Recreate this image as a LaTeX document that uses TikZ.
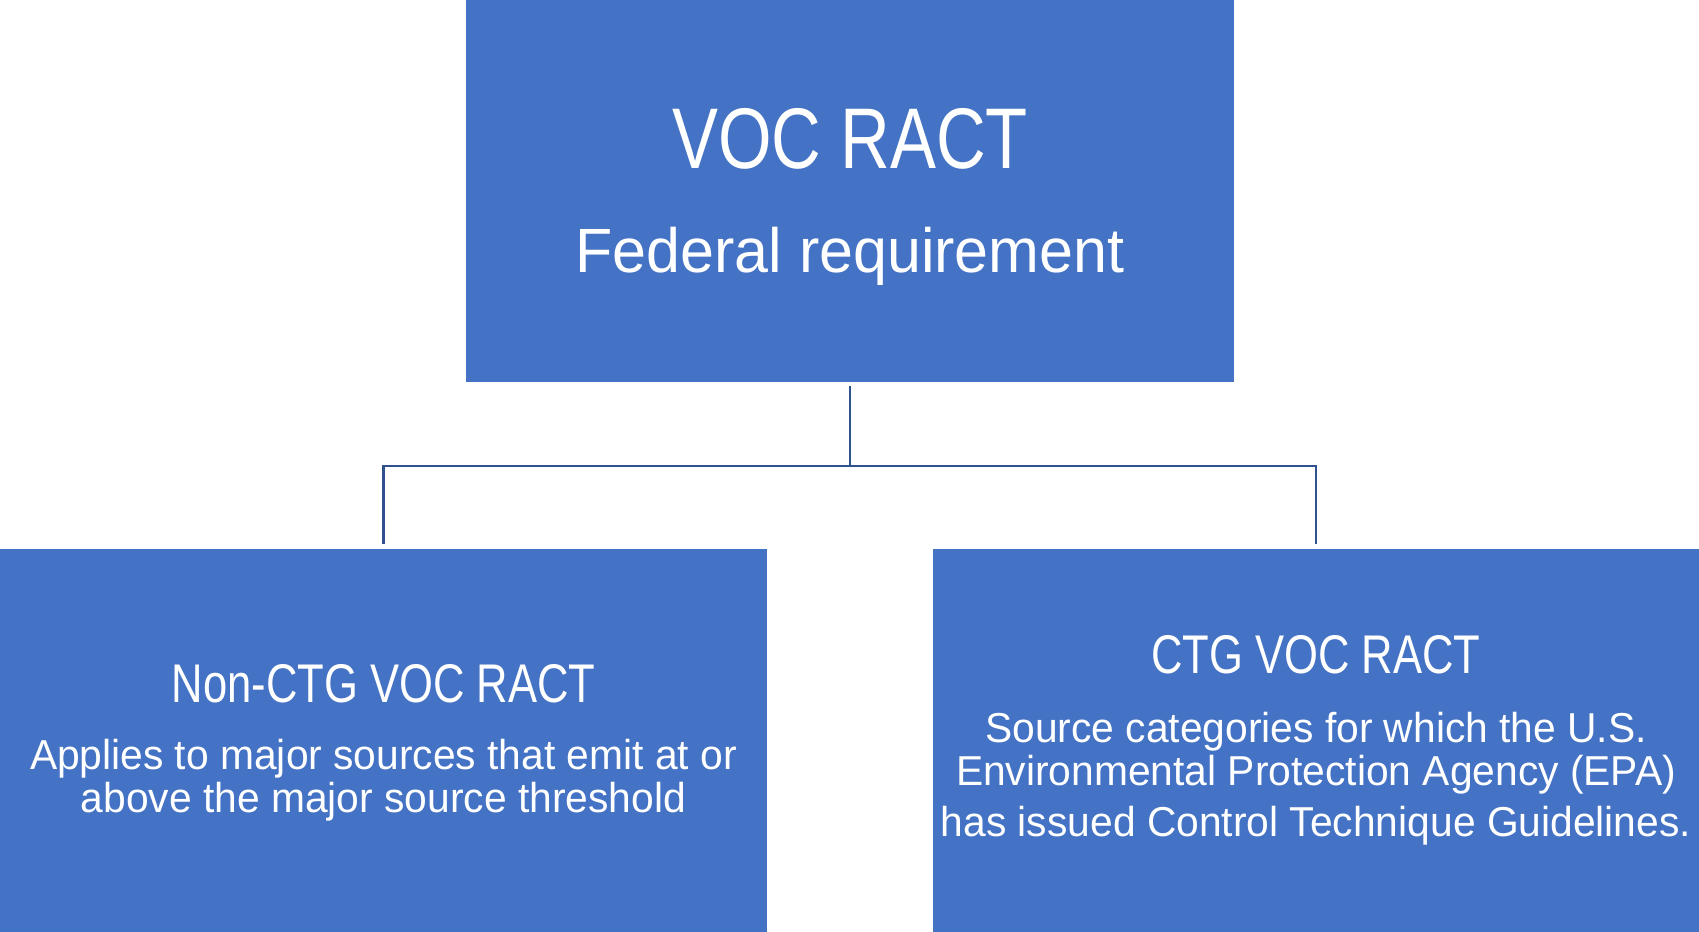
\documentclass[tikz,border=0pt]{standalone}
\usepackage{fontspec}
\setmainfont{Liberation Sans}[FakeStretch=0.8]
\newfontfamily\bodyfont{Liberation Sans}[FakeStretch=0.975]
\usetikzlibrary{positioning}
\definecolor{boxblue}{HTML}{4472C4}
\definecolor{linkblue}{HTML}{2F528F}
\tikzset{
  racbox/.style={fill=boxblue, text=white, inner sep=0pt, align=center,
    minimum width=15.34cm, minimum height=7.65cm},
  link/.style={draw=linkblue, line width=1.2pt}
}
\begin{document}
\begin{tikzpicture}[x=0.02cm,y=-0.02cm]
  \useasboundingbox (0,0) rectangle (1699,932);
  \node[racbox, minimum width=15.36cm] (fed) at (850,191)
    {\fontsize{49}{58}\selectfont\rule{0pt}{40.8pt}VOC RACT\\[32pt]
     \bodyfont\fontsize{35.6}{42}\selectfont Federal requirement};
  \node[racbox] (nonctg) at (383.5,740.5)
    {\fontsize{31}{37}\selectfont\rule{0pt}{24.6pt}Non-CTG VOC RACT\\[19.6pt]
     \bodyfont\fontsize{23.8}{23.8}\selectfont Applies to major sources that emit at or\\[1.2pt]
     \bodyfont\fontsize{23.8}{23.8}\selectfont above the major source threshold};
  \node[racbox] (ctg) at (1316,740.5)
    {\fontsize{31}{37}\selectfont CTG VOC RACT\\[20.8pt]
     \bodyfont\fontsize{23.8}{23.8}\selectfont Source categories for which the U.S.\\[1.3pt]
     \bodyfont\fontsize{23.8}{23.8}\selectfont Environmental Protection Agency (EPA)\\[5.8pt]
     \bodyfont\fontsize{23.8}{23.8}\selectfont has issued Control Technique Guidelines.};
  \coordinate (split) at (850,466);
  \draw[link, shorten <=2pt] (fed.south) -- (fed.south |- split) -| ([yshift=3pt]nonctg.north);
  \draw[link] (split) -| ([yshift=3pt]ctg.north);
\end{tikzpicture}
\end{document}
